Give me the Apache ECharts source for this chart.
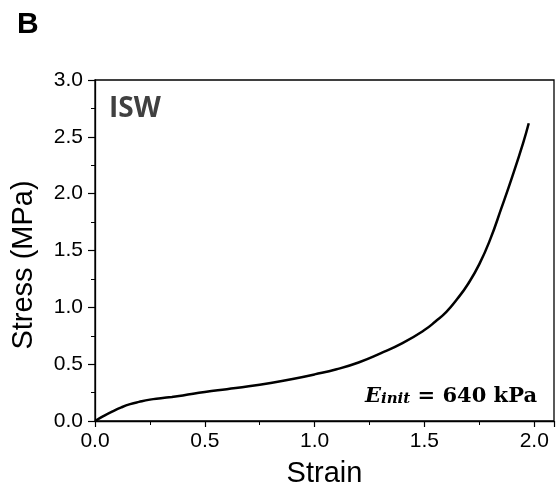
<!DOCTYPE html>
<html>
<head>
<meta charset="utf-8">
<script src="https://cdn.jsdelivr.net/npm/echarts@6/dist/echarts.min.js"></script>
<style>html,body{margin:0;padding:0;background:#fff}#c{width:557px;height:493px}</style>
</head>
<body>
<div id="c"></div>
<script>
const strain = [0, 0.04, 0.08, 0.12, 0.16, 0.2, 0.25, 0.3, 0.35, 0.4, 0.5, 0.6, 0.7, 0.8, 0.9, 1.0, 1.1, 1.2, 1.3, 1.4, 1.5, 1.55, 1.6, 1.65, 1.7, 1.75, 1.8, 1.85, 1.9, 1.95, 1.975];
const stress = [0, 0.045, 0.085, 0.12, 0.148, 0.168, 0.188, 0.2, 0.212, 0.225, 0.255, 0.28, 0.305, 0.335, 0.37, 0.41, 0.455, 0.515, 0.595, 0.685, 0.8, 0.875, 0.96, 1.075, 1.21, 1.38, 1.6, 1.87, 2.15, 2.45, 2.62];
const xTicks = [0, 0.5, 1.0, 1.5, 2.0];
const yTicks = [0, 0.5, 1.0, 1.5, 2.0, 2.5, 3.0];

const chart = echarts.init(document.getElementById('c'));
const lab = {fontFamily: 'Liberation Sans, Arial', fontSize: 21, color: '#000'};
chart.setOption({
  animation: false,
  grid: {left: 95, top: 80, right: 2, bottom: 71, show: true, borderColor: '#000', borderWidth: 1.3, backgroundColor: '#fff'},
  xAxis: {
    type: 'value', min: 0, max: 2.09, interval: 0.5,
    name: 'Strain', nameLocation: 'middle', nameGap: 38,
    nameTextStyle: {fontFamily: 'Liberation Sans, Arial', fontSize: 29, color: '#000'},
    axisLine: {show: true, onZero: false, lineStyle: {color: '#000', width: 1.3}},
    axisTick: {show: true, inside: false, length: 6, lineStyle: {color: '#000', width: 1.2}},
    minorTick: {show: true, splitNumber: 2, length: 4, lineStyle: {color: '#000', width: 1}},
    splitLine: {show: false},
    axisLabel: Object.assign({margin: 10, formatter: v => xTicks.some(t => Math.abs(t - v) < 1e-6) ? v.toFixed(1) : ''}, lab)
  },
  yAxis: {
    type: 'value', min: 0, max: 3, interval: 0.5,
    axisLine: {show: true, onZero: false, lineStyle: {color: '#000', width: 1.3}},
    axisTick: {show: true, inside: false, length: 7, lineStyle: {color: '#000', width: 1.2}},
    minorTick: {show: true, splitNumber: 2, length: 4, lineStyle: {color: '#000', width: 1}},
    splitLine: {show: false},
    axisLabel: Object.assign({margin: 12, formatter: v => yTicks.some(t => Math.abs(t - v) < 1e-6) ? v.toFixed(1) : ''}, lab)
  },
  series: [{
    type: 'line', data: strain.map((x, i) => [x, stress[i]]),
    showSymbol: false, smooth: 0.5, clip: false,
    lineStyle: {color: '#000', width: 2.5}
  }],
  graphic: [
    {type: 'text', x: 24, y: 265, rotation: Math.PI / 2, style: {text: 'Stress (MPa)', fontFamily: 'Liberation Sans, Arial', fontSize: 29, fill: '#000', align: 'center', verticalAlign: 'middle'}},
    {type: 'text', left: 17, top: 10, style: {text: 'B', fontFamily: 'Liberation Sans, Arial', fontWeight: 'bold', fontSize: 30, fill: '#000'}},
    {type: 'text', left: 109, top: 95, style: {text: 'ISW', fontFamily: 'Open Sans, Noto Sans', fontWeight: 'bold', fontSize: 28, fill: '#404040'}},
    {type: 'text', left: 365, top: 386, style: {
      text: '{e|E}{s|init}{r| = 640 kPa}',
      rich: {
        e: {fontFamily: 'DejaVu Serif', fontStyle: 'italic', fontWeight: 'bold', fontSize: 21, fill: '#000', verticalAlign: 'bottom'},
        s: {fontFamily: 'DejaVu Serif', fontStyle: 'italic', fontWeight: 'bold', fontSize: 15, fill: '#000', padding: [9, 0, 0, 0], verticalAlign: 'bottom'},
        r: {fontFamily: 'DejaVu Serif', fontWeight: 'bold', fontSize: 21, fill: '#000', verticalAlign: 'bottom'}
      }
    }}
  ]
});
</script>
</body>
</html>
